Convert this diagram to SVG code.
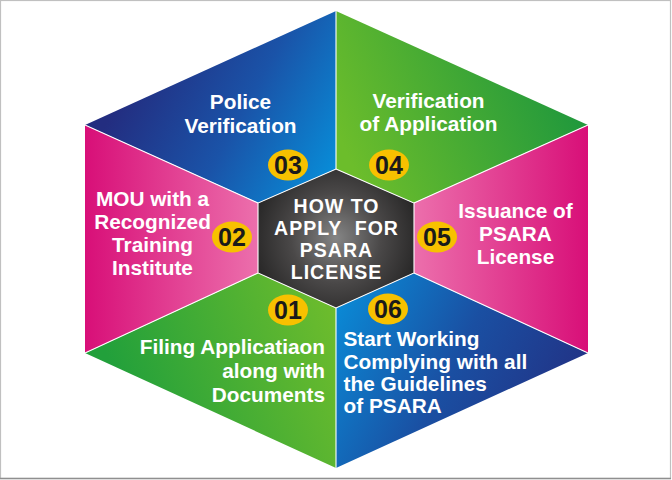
<svg xmlns="http://www.w3.org/2000/svg" width="672" height="480" viewBox="0 0 672 480">
<style>
.lbl{font-family:"Liberation Sans",Arial,sans-serif;font-weight:bold;font-size:20.8px;fill:#ffffff}
.mid{text-anchor:middle}
.end{text-anchor:end}
.ctr{font-family:"Liberation Sans",Arial,sans-serif;font-weight:bold;font-size:19.5px;fill:#ffffff;text-anchor:middle;letter-spacing:1px}
.badge{fill:#f7c100}
.num{font-family:"Liberation Sans",Arial,sans-serif;font-weight:bold;font-size:25px;fill:#1a1a1a;text-anchor:middle}
.div{stroke:#ffffff;stroke-width:1.1;fill:none}
</style>
<defs>
<linearGradient id="gBlueTop" gradientUnits="userSpaceOnUse" x1="130" y1="80" x2="330" y2="190">
<stop offset="0" stop-color="#232d80"/><stop offset="0.5" stop-color="#1a53a8"/><stop offset="1" stop-color="#078fda"/>
</linearGradient>
<linearGradient id="gGreenTop" gradientUnits="userSpaceOnUse" x1="365" y1="195" x2="570" y2="105">
<stop offset="0" stop-color="#6cbd2b"/><stop offset="1" stop-color="#22993c"/>
</linearGradient>
<linearGradient id="gPinkR" gradientUnits="userSpaceOnUse" x1="414" y1="0" x2="588" y2="0">
<stop offset="0" stop-color="#ec6fac"/><stop offset="1" stop-color="#d80f78"/>
</linearGradient>
<linearGradient id="gPinkL" gradientUnits="userSpaceOnUse" x1="85" y1="0" x2="258" y2="0">
<stop offset="0" stop-color="#d80f78"/><stop offset="1" stop-color="#ec6fac"/>
</linearGradient>
<linearGradient id="gGreenBot" gradientUnits="userSpaceOnUse" x1="335" y1="285" x2="110" y2="365">
<stop offset="0" stop-color="#70bd2c"/><stop offset="1" stop-color="#22a03b"/>
</linearGradient>
<linearGradient id="gBlueBot" gradientUnits="userSpaceOnUse" x1="345" y1="285" x2="560" y2="395">
<stop offset="0" stop-color="#0a8ad6"/><stop offset="0.55" stop-color="#1a4fa2"/><stop offset="1" stop-color="#213588"/>
</linearGradient>
<radialGradient id="gCenter" gradientUnits="userSpaceOnUse" cx="336" cy="238" r="82">
<stop offset="0" stop-color="#858585"/><stop offset="0.55" stop-color="#4a4848"/><stop offset="1" stop-color="#2a2929"/>
</radialGradient>
</defs>
<rect x="0.5" y="0.5" width="670" height="478" fill="#ffffff" stroke="#c0c0c0" stroke-width="1.2"/>
<line x1="0" y1="478.6" x2="671" y2="478.6" stroke="#8f8f8f" stroke-width="1.5"/>

<g id="step03">
<polygon points="336,11 85,125 258,203 336,169" fill="url(#gBlueTop)"/>
<text class="lbl mid" x="240.5" y="108.5">Police</text>
<text class="lbl mid" x="240.5" y="132.5">Verification</text>
<ellipse class="badge" cx="288" cy="165" rx="20" ry="15.5"/>
<text class="num" x="288" y="174">03</text>
</g>
<g id="step04">
<polygon points="336,11 588,125 414,203 336,169" fill="url(#gGreenTop)"/>
<text class="lbl mid" x="428.5" y="107.5">Verification</text>
<text class="lbl mid" x="428.5" y="131">of Application</text>
<ellipse class="badge" cx="389" cy="165" rx="20" ry="15.5"/>
<text class="num" x="389" y="174">04</text>
</g>
<g id="step05">
<polygon points="588,125 588,353 414,273 414,203" fill="url(#gPinkR)"/>
<text class="lbl mid" x="515.5" y="217.5">Issuance of</text>
<text class="lbl mid" x="515.5" y="241">PSARA</text>
<text class="lbl mid" x="515.5" y="264">License</text>
<ellipse class="badge" cx="437" cy="237" rx="20" ry="15.5"/>
<text class="num" x="437" y="246">05</text>
</g>
<g id="step06">
<polygon points="588,353 336,468 336,308 414,273" fill="url(#gBlueBot)"/>
<text class="lbl" x="343.5" y="346">Start Working</text>
<text class="lbl" x="343.5" y="368.5">Complying with all</text>
<text class="lbl" x="343.5" y="390.5">the Guidelines</text>
<text class="lbl" x="343.5" y="412.5">of PSARA</text>
<ellipse class="badge" cx="388" cy="309" rx="20" ry="15.5"/>
<text class="num" x="388" y="318">06</text>
</g>
<g id="step01">
<polygon points="336,468 85,353 258,273 336,308" fill="url(#gGreenBot)"/>
<text class="lbl end" x="325" y="353.5">Filing Applicatiaon</text>
<text class="lbl end" x="325" y="378">along with</text>
<text class="lbl end" x="325" y="401.5">Documents</text>
<ellipse class="badge" cx="288" cy="310" rx="20" ry="15.5"/>
<text class="num" x="288" y="319">01</text>
</g>
<g id="step02">
<polygon points="85,353 85,125 258,203 258,273" fill="url(#gPinkL)"/>
<text class="lbl mid" x="152.5" y="205.5">MOU with a</text>
<text class="lbl mid" x="152.5" y="228.5">Recognized</text>
<text class="lbl mid" x="152.5" y="251.5">Training</text>
<text class="lbl mid" x="152.5" y="274.5">Institute</text>
<ellipse class="badge" cx="232" cy="237" rx="20" ry="15.5"/>
<text class="num" x="232" y="246">02</text>
</g>
<g id="center">
<polygon points="336,169 414,203 414,273 336,308 258,273 258,203" fill="url(#gCenter)"/>
<text class="ctr" x="336.5" y="213">HOW TO</text>
<text class="ctr" x="336.5" y="235" xml:space="preserve">APPLY  FOR</text>
<text class="ctr" x="336.5" y="257">PSARA</text>
<text class="ctr" x="336.5" y="279">LICENSE</text>
</g>
<g id="connectors">
<polygon class="div" points="336,169 414,203 414,273 336,308 258,273 258,203"/>
<line class="div" x1="336" y1="11" x2="336" y2="169"/>
<line class="div" x1="588" y1="125" x2="414" y2="203"/>
<line class="div" x1="588" y1="353" x2="414" y2="273"/>
<line class="div" x1="336" y1="468" x2="336" y2="308"/>
<line class="div" x1="85" y1="353" x2="258" y2="273"/>
<line class="div" x1="85" y1="125" x2="258" y2="203"/>
</g>
</svg>
